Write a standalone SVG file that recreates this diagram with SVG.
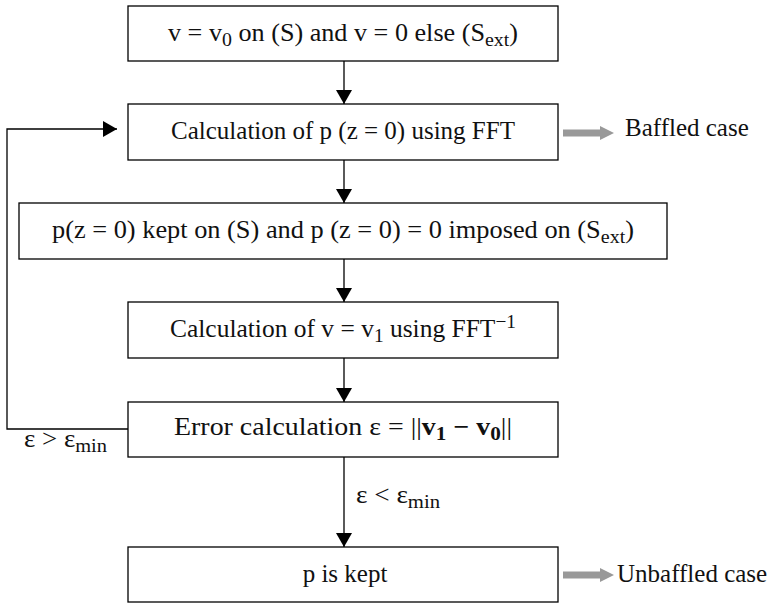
<svg xmlns="http://www.w3.org/2000/svg" width="780" height="603" viewBox="0 0 780 603">
<defs>
<marker id="ah" markerWidth="14" markerHeight="16" refX="14" refY="8" orient="auto" markerUnits="userSpaceOnUse" viewBox="0 0 14 16">
<path d="M0,0 L14,8 L0,16 z" fill="#000"/>
</marker>
<style>
rect{fill:#fff;stroke:#000;stroke-width:1.3}
text{font-family:"Liberation Serif","Times New Roman",serif;font-size:25px;fill:#111}
.c{text-anchor:middle}
.ln{fill:none;stroke:#000;stroke-width:1.3}
.g{fill:none;stroke:#999;stroke-width:7}
.gh{fill:#999}
.s{font-size:19px}
</style>
</defs>
<g id="connectors">
<path class="ln" d="M344,61 V104" marker-end="url(#ah)"/>
<path class="ln" d="M344,160 V203" marker-end="url(#ah)"/>
<path class="ln" d="M344,259 V302" marker-end="url(#ah)"/>
<path class="ln" d="M344,358 V402" marker-end="url(#ah)"/>
<path class="ln" d="M344,457 V547" marker-end="url(#ah)"/>
<path class="ln" d="M128,429 H7 V129 H117" marker-end="url(#ah)"/>
<path class="g" d="M563,133 H601"/>
<path class="gh" d="M600,126 L614,133 L600,140 z"/>
<path class="g" d="M563,575 H601"/>
<path class="gh" d="M600,568 L614,575 L600,582 z"/>
<text x="24" y="447" textLength="83" lengthAdjust="spacingAndGlyphs">ε &gt; ε<tspan class="s" dy="5">min</tspan></text>
<text x="356" y="503" textLength="84" lengthAdjust="spacingAndGlyphs">ε &lt; ε<tspan class="s" dy="5">min</tspan></text>
</g>
<g id="n1">
<rect x="128" y="6" width="430" height="55"/>
<text class="c" x="343" y="41" textLength="350" lengthAdjust="spacingAndGlyphs">v = v<tspan class="s" dy="5">0</tspan><tspan dy="-5"> on (S) and v = 0 else (S</tspan><tspan class="s" dy="5">ext</tspan><tspan dy="-5">)</tspan></text>
</g>
<g id="n2">
<rect x="128" y="104" width="430" height="56"/>
<text class="c" x="343" y="139">Calculation of p (z = 0) using FFT</text>
</g>
<g id="n3">
<rect x="19" y="203" width="648" height="56"/>
<text class="c" x="343" y="238" textLength="582" lengthAdjust="spacingAndGlyphs">p(z = 0) kept on (S) and p (z = 0) = 0 imposed on (S<tspan class="s" dy="5">ext</tspan><tspan dy="-5">)</tspan></text>
</g>
<g id="n4">
<rect x="128" y="302" width="430" height="56"/>
<text class="c" x="343" y="337" textLength="346" lengthAdjust="spacingAndGlyphs">Calculation of  v = v<tspan class="s" dy="5">1</tspan><tspan dy="-5"> using FFT</tspan><tspan class="s" dy="-9">−1</tspan></text>
</g>
<g id="n5">
<rect x="128" y="402" width="430" height="55"/>
<text class="c" x="343" y="435" textLength="338" lengthAdjust="spacingAndGlyphs">Error calculation  ε = ||<tspan font-weight="bold">v<tspan class="s" dy="5">1</tspan><tspan dy="-5"> − v</tspan><tspan class="s" dy="5">0</tspan></tspan><tspan dy="-5">||</tspan></text>
</g>
<g id="n6">
<rect x="128" y="547" width="430" height="55"/>
<text class="c" x="345" y="582">p is kept</text>
</g>
<g id="labels">
<text x="625" y="136">Baffled case</text>
<text x="617" y="582">Unbaffled case</text>
</g>
</svg>
